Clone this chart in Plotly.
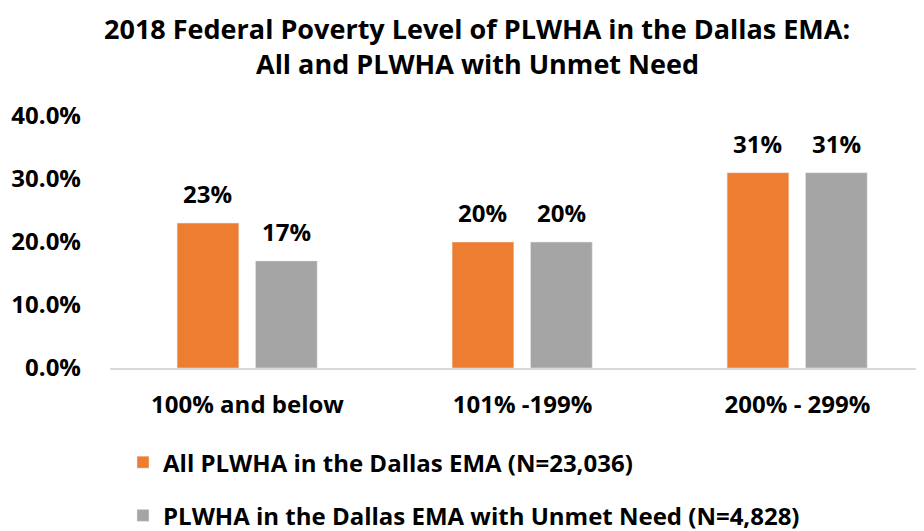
import plotly.graph_objects as go

categories = ["100% and below", "101% -199%", "200% - 299%"]
all_plwha = [0.23, 0.20, 0.31]
unmet_need = [0.17, 0.20, 0.31]
series_names = ["All PLWHA in the Dallas EMA (N=23,036)",
                "PLWHA in the Dallas EMA with Unmet Need (N=4,828)"]
tick_vals = [0, 0.1, 0.2, 0.3, 0.4]
tick_text = ["0.0%", "10.0%", "20.0%", "30.0%", "40.0%"]
title_lines = ["2018 Federal Poverty Level of PLWHA in the Dallas EMA:",
               "All and PLWHA with Unmet Need"]

FONT = "Open Sans"
ORANGE = "#ED7D31"
GRAY = "#A5A5A5"

# page body has an 8px margin, so the figure is drawn 8px smaller
W, H = 916, 523
ML, MT, MB, MR = 102, 108, 163, 0
PW = W - ML - MR
PH = H - MT - MB

bw = 0.2245
off_a = -0.256
off_b = 0.029
xs = list(range(len(categories)))

fig = go.Figure()
fig.add_trace(go.Bar(x=xs, y=all_plwha, name=series_names[0], marker_color=ORANGE,
                     width=bw, offset=off_a, legendgroup="a"))
fig.add_trace(go.Bar(x=xs, y=unmet_need, name=series_names[1], marker_color=GRAY,
                     width=bw, offset=off_b, legendgroup="b"))

for vals, off in ((all_plwha, off_a), (unmet_need, off_b)):
    for i, v in enumerate(vals):
        fig.add_annotation(x=i + off + bw / 2, y=v, text=f"{round(v*100)}%",
                           showarrow=False, yanchor="bottom", yshift=11,
                           font=dict(family=FONT, size=24, color="black", weight="bold"))

# title lines: top edge of line boxes in figure pixels
for line, top_px in zip(title_lines, (0.5, 36)):
    fig.add_annotation(text=line, xref="paper", yref="paper",
                       x=(469 - ML) / PW, y=(MT + PH - top_px) / PH,
                       xanchor="center", yanchor="top", showarrow=False, borderpad=0,
                       font=dict(family=FONT, size=27, color="black", weight="bold"))

fig.update_layout(
    width=W, height=H,
    margin=dict(l=ML, r=MR, t=MT, b=MB, autoexpand=False),
    paper_bgcolor="white", plot_bgcolor="white",
    font=dict(family=FONT, color="black"),
    showlegend=True,
    legend=dict(orientation="v", x=(115 - ML) / PW, xref="paper", xanchor="left",
                y=-0.286, yanchor="top", tracegroupgap=19,
                font=dict(family=FONT, size=24, color="black", weight="bold")),
    xaxis=dict(range=[-0.5, 2.46], tickvals=xs, ticktext=categories, showgrid=False,
               showline=True, linecolor="#D9D9D9", linewidth=2, zeroline=False,
               ticks="", ticklabelstandoff=14,
               tickfont=dict(family=FONT, size=24, color="black", weight="bold")),
    yaxis=dict(range=[0, 0.4], tickvals=tick_vals, ticktext=tick_text, showgrid=False,
               zeroline=False, showline=False, ticks="", ticklabelstandoff=28,
               tickfont=dict(family=FONT, size=24, color="black", weight="bold")),
)

fig.write_html("out.html")
